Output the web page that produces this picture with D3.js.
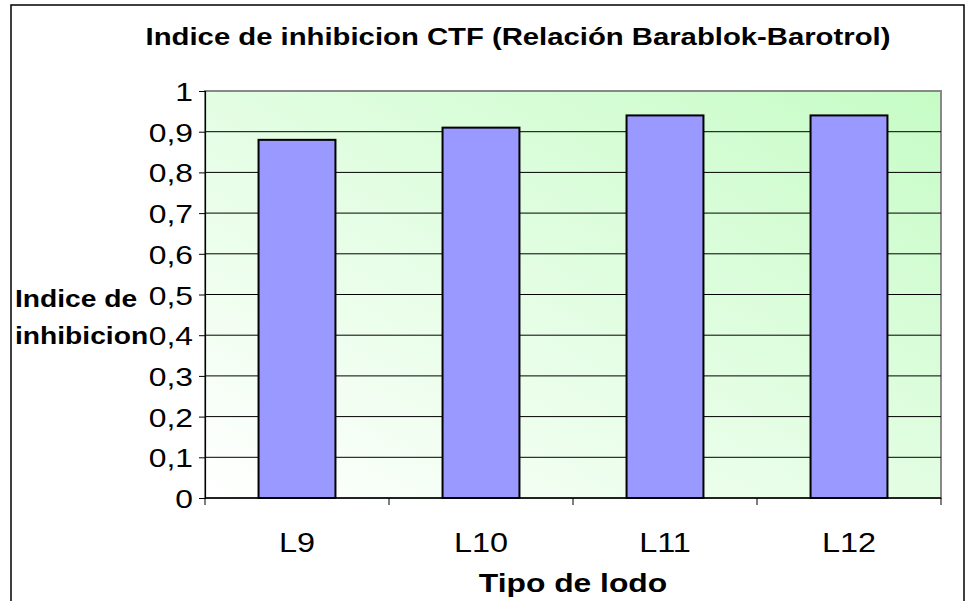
<!DOCTYPE html>
<html><head><meta charset="utf-8">
<script src="https://cdn.jsdelivr.net/npm/d3@7/dist/d3.min.js"></script>
<style>body{margin:0;background:#fff}svg{display:block}text{font-family:"Liberation Sans",Arial,sans-serif}</style>
</head><body><svg id="c" width="966" height="601"></svg>
<script>
const categories = ["L9","L10","L11","L12"];
const values = [0.88, 0.91, 0.94, 0.94];
const yTicks = [0,0.1,0.2,0.3,0.4,0.5,0.6,0.7,0.8,0.9,1];
const yTickLabels = ["0","0,1","0,2","0,3","0,4","0,5","0,6","0,7","0,8","0,9","1"];
const title = "Indice de inhibicion CTF (Relación Barablok-Barotrol)";
const xTitle = "Tipo de lodo";
const yTitle = ["Indice de","inhibicion"];

const svg = d3.select("#c");
const L = 205, R = 941, T = 91, B = 498;
const K = 1.2; // horizontal text stretch seen in the reference

function stretch(sel){
  sel.each(function(){
    const w = this.getComputedTextLength();
    d3.select(this).attr("textLength", w*K).attr("lengthAdjust","spacingAndGlyphs");
  });
}

const defs = svg.append("defs");
const g = defs.append("linearGradient").attr("id","bg").attr("x1",0).attr("y1",1).attr("x2",1).attr("y2",0);
g.append("stop").attr("offset","0%").attr("stop-color","#ffffff");
g.append("stop").attr("offset","100%").attr("stop-color","#c6fcc6");

// outer frame
svg.append("rect").attr("x",11).attr("y",5).attr("width",953).attr("height",610)
  .attr("fill","none").attr("stroke","#000").attr("stroke-width",1.5);

const x = d3.scaleBand().domain(categories).range([L,R]).paddingInner(0.582).paddingOuter(0.291);
const xb = d3.scaleBand().domain(categories).range([L,R]);
const y = d3.scaleLinear().domain([0,1]).range([B,T]);

svg.append("rect").attr("x",L).attr("y",T).attr("width",R-L).attr("height",B-T)
  .attr("fill","url(#bg)").attr("stroke","#888").attr("stroke-width",2);

// gridlines
svg.append("g").selectAll("line").data(yTicks.slice(1,-1)).join("line")
  .attr("x1",L).attr("x2",R).attr("y1",d=>y(d)).attr("y2",d=>y(d))
  .attr("stroke","#000").attr("stroke-width",1);

// bars
svg.append("g").selectAll("rect").data(values).join("rect")
  .attr("x",(d,i)=>x(categories[i])).attr("width",x.bandwidth())
  .attr("y",d=>y(d)).attr("height",d=>y(0)-y(d))
  .attr("fill","#9999ff").attr("stroke","#000").attr("stroke-width",2);

// y axis
const ya = d3.axisLeft(y).tickValues(yTicks).tickFormat((d,i)=>yTickLabels[i]).tickSize(6).tickPadding(6);
const yg = svg.append("g").attr("transform",`translate(${L},0)`).call(ya);
yg.attr("font-family",null).attr("font-size",null);
yg.select(".domain").attr("stroke","#000").attr("stroke-width",1.2);
yg.selectAll("line").attr("stroke","#000");
yg.selectAll("text").attr("font-size",26.5).attr("fill","#000").attr("dy","0.36em").call(stretch);

// x axis
const xg = svg.append("g").attr("transform",`translate(0,${B})`);
xg.append("line").attr("x1",L).attr("x2",R).attr("stroke","#000").attr("stroke-width",1.5);
const bounds = categories.map(c=>xb(c)).concat([R]);
xg.selectAll("line.t").data(bounds).join("line").attr("class","t")
  .attr("x1",d=>d).attr("x2",d=>d).attr("y1",0).attr("y2",7).attr("stroke","#000");
xg.selectAll("text").data(categories).join("text")
  .attr("x",d=>xb(d)+xb.bandwidth()/2).attr("y",54).attr("text-anchor","middle")
  .attr("font-size",27).text(d=>d).call(stretch);

// titles
svg.append("text").attr("x",518).attr("y",45).attr("text-anchor","middle")
  .attr("font-size",24.4).attr("font-weight","bold").text(title).call(stretch);
svg.append("text").attr("x",573).attr("y",592).attr("text-anchor","middle")
  .attr("font-size",26.5).attr("font-weight","bold").text(xTitle).call(stretch);
svg.append("text").attr("x",15).attr("y",307).attr("font-size",23.5).attr("font-weight","bold")
  .selectAll("tspan").data(yTitle).join("tspan").attr("x",15).attr("dy",(d,i)=>i?37:0).text(d=>d).call(stretch);
</script></body></html>
